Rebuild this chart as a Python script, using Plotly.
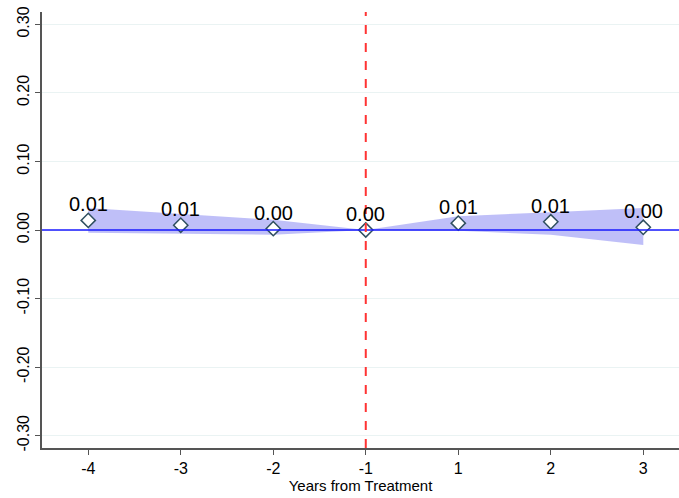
import plotly.graph_objects as go

years = ["-4", "-3", "-2", "-1", "1", "2", "3"]
coef = [0.014, 0.007, 0.002, 0.0, 0.010, 0.012, 0.004]
ci_upper = [0.032, 0.023, 0.015, 0.0, 0.020, 0.026, 0.032]
ci_lower = [-0.004, -0.006, -0.007, 0.0, -0.001, -0.007, -0.022]
point_labels = ["0.01", "0.01", "0.00", "0.00", "0.01", "0.01", "0.00"]
ytick_vals = [-0.3, -0.2, -0.1, 0.0, 0.1, 0.2, 0.3]
ytick_text = ["-0.30", "-0.20", "-0.10", "0.00", "0.10", "0.20", "0.30"]

xpos = list(range(len(years)))
font = "Liberation Sans, Arial, sans-serif"

fig = go.Figure()
fig.add_trace(go.Scatter(x=xpos, y=ci_upper, mode="lines", line=dict(width=0),
                         hoverinfo="skip", showlegend=False))
fig.add_trace(go.Scatter(x=xpos, y=ci_lower, mode="lines", line=dict(width=0),
                         fill="tonexty", fillcolor="rgba(60,60,235,0.33)",
                         hoverinfo="skip", showlegend=False))
fig.add_hline(y=0, line=dict(color="#1a1aff", width=1.5))
fig.add_vline(x=years.index("-1"), line=dict(color="#ff3333", width=2, dash="dash"))
fig.add_trace(go.Scatter(x=xpos, y=coef, mode="markers",
                         marker=dict(symbol="diamond", size=11, color="white",
                                     line=dict(color="#2f4f5f", width=1.5)),
                         showlegend=False))
for xi, yi, lab in zip(xpos, coef, point_labels):
    fig.add_annotation(x=xi, y=yi, text=lab, showarrow=False, yanchor="bottom",
                       yshift=3, font=dict(size=20, color="black", family=font))

fig.update_layout(
    width=679, height=498,
    margin=dict(l=42, r=0, t=12, b=50),
    plot_bgcolor="white", paper_bgcolor="white",
    font=dict(family=font, color="black"),
    xaxis=dict(range=[-0.5, 6.386], tickmode="array", tickvals=xpos, ticktext=years,
               showgrid=False, zeroline=False, showline=True, linecolor="#555555",
               linewidth=1.5, ticks="outside", ticklen=5, tickcolor="#555555",
               tickfont=dict(size=16),
               title=dict(text="Years from Treatment", font=dict(size=15), standoff=3)),
    yaxis=dict(range=[-0.318, 0.318], tickmode="array", tickvals=ytick_vals,
               ticktext=ytick_text, tickangle=-90, showgrid=True, gridcolor="#eaf3f3",
               zeroline=False, showline=True, linecolor="#555555", linewidth=1.5,
               ticks="outside", ticklen=5, tickcolor="#555555", tickfont=dict(size=16)),
)

fig.write_html("out.html")
